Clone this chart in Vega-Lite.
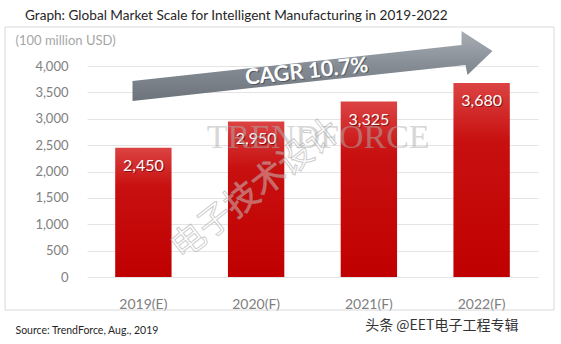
{
  "$schema": "https://vega.github.io/schema/vega-lite/v6.json",
  "width": 451,
  "height": 211,
  "autosize": {"type": "none"},
  "padding": {"left": 87, "top": 66, "right": 23, "bottom": 67},
  "background": "white",
  "config": {"view": {"stroke": null}, "font": "Lato"},
  "title": {
    "text": "Graph: Global Market Scale for Intelligent Manufacturing in 2019-2022",
    "anchor": "start",
    "frame": "group",
    "dx": -62,
    "offset": 4,
    "fontSize": 13.6,
    "fontWeight": "normal",
    "color": "#262626",
    "font": "Lato"
  },
  "datasets": {
    "bars": [
      {"year": "2019(E)", "value": 2450, "label": "2,450"},
      {"year": "2020(F)", "value": 2950, "label": "2,950"},
      {"year": "2021(F)", "value": 3325, "label": "3,325"},
      {"year": "2022(F)", "value": 3680, "label": "3,680"}
    ],
    "deco": [
      {"ax": 2.0, "ay": 4000, "tx": 1.95, "ty": 3880, "cagr": "CAGR 10.7%", "fx": -0.727, "fx2": 4.142, "fy": 4739, "fy2": -626, "wm": "TRENDFORCE", "wx": 2.05, "wy": 2630, "cn": "电子技术设计", "cx": 1.5, "cy": 1650}
    ]
  },
  "resolve": {"scale": {"x": "independent"}, "axis": {"x": "independent"}},
  "layer": [
    {
      "data": {"name": "bars"},
      "encoding": {
        "x": {
          "field": "year", "type": "nominal", "sort": null,
          "scale": {"paddingInner": 0.5, "paddingOuter": 0.25},
          "axis": {
            "title": "Source: TrendForce, Aug., 2019",
            "titleX": -72, "titleY": 53, "titleAlign": "left", "titleAnchor": "start", "titleBaseline": "middle",
            "titleFontSize": 10.5, "titleFontWeight": "normal", "titleColor": "#262626",
            "labelAngle": 0, "labelFontSize": 14, "labelColor": "#808080", "labelPadding": 20,
            "domain": false, "ticks": false
          }
        },
        "y": {
          "field": "value", "type": "quantitative",
          "scale": {"domain": [0, 4000], "nice": false},
          "axis": {
            "values": [0, 500, 1000, 1500, 2000, 2500, 3000, 3500, 4000],
            "tickCount": 10,
            "format": ",d",
            "title": "(100 million USD)",
            "titleAngle": 0, "titleX": -72, "titleY": -26, "titleAlign": "left", "titleBaseline": "middle",
            "titleFontSize": 13, "titleFontWeight": "normal", "titleColor": "#a6a6a6",
            "labelFontSize": 13, "labelColor": "#808080", "labelPadding": 19,
            "domain": false, "ticks": false, "gridColor": "#e4e4e4"
          }
        }
      },
      "layer": [
        {
          "mark": {
            "type": "bar",
            "fill": {
              "gradient": "linear", "x1": 0, "y1": 0, "x2": 0, "y2": 1,
              "stops": [
                {"offset": 0, "color": "#dc4343"},
                {"offset": 0.3, "color": "#c81010"},
                {"offset": 1, "color": "#c00000"}
              ]
            }
          }
        },
        {
          "mark": {"type": "text", "baseline": "middle", "dy": 19, "dx": 1, "fontSize": 16, "color": "#5a0000", "opacity": 0.6},
          "encoding": {"text": {"field": "label"}}
        },
        {
          "mark": {"type": "text", "baseline": "middle", "dy": 18, "fontSize": 16, "color": "white"},
          "encoding": {"text": {"field": "label"}}
        }
      ]
    },
    {
      "data": {"name": "deco"},
      "layer": [
        {
          "mark": {"type": "rect", "fill": null, "stroke": "#d9d9d9", "strokeWidth": 1},
          "encoding": {
            "x": {"field": "fx", "type": "quantitative", "scale": {"domain": [0, 4], "nice": false, "zero": false},
              "axis": {"orient": "top", "labels": false, "ticks": false, "domain": false, "grid": false,
                "title": "头条 @EET电子工程专辑", "titleX": 431, "titleY": 259, "titleAlign": "right", "titleAnchor": "end",
                "titleBaseline": "middle", "titleFont": "Noto Sans CJK SC", "titleFontSize": 14, "titleFontWeight": "normal", "titleColor": "#333333"}},
            "x2": {"field": "fx2"},
            "y": {"field": "fy", "type": "quantitative",
              "axis": {
                "values": [0, 500, 1000, 1500, 2000, 2500, 3000, 3500, 4000],
                "tickCount": 10,
                "format": ",d",
                "title": "(100 million USD)",
                "titleAngle": 0, "titleX": -72, "titleY": -26, "titleAlign": "left", "titleBaseline": "middle",
                "titleFontSize": 13, "titleFontWeight": "normal", "titleColor": "#a6a6a6",
                "labelFontSize": 13, "labelColor": "#808080", "labelPadding": 19,
                "domain": false, "ticks": false, "gridColor": "#e4e4e4"
              }},
            "y2": {"field": "fy2"}
          }
        },
        {
          "mark": {"type": "text", "font": "Liberation Serif", "fontSize": 34, "color": "#b0b0b0", "opacity": 0.5, "baseline": "middle"},
          "encoding": {
            "x": {"field": "wx", "type": "quantitative"},
            "y": {"field": "wy", "type": "quantitative"},
            "text": {"field": "wm"}
          }
        },
        {
          "mark": {"type": "text", "font": "Noto Sans CJK SC", "fontSize": 34, "fill": "white", "fillOpacity": 0.35, "stroke": "#9a9a9a", "strokeWidth": 1, "strokeOpacity": 0.5, "angle": -38, "baseline": "middle"},
          "encoding": {
            "x": {"field": "cx", "type": "quantitative"},
            "y": {"field": "cy", "type": "quantitative"},
            "text": {"field": "cn"}
          }
        },
        {
          "mark": {
            "type": "point", "filled": true, "size": 129600, "opacity": 1,
            "shape": "M-1,0.083 L0.828,-0.117 L0.828,-0.194 L1,-0.083 L0.861,0.05 L0.85,-0.006 L-1,0.194 Z",
            "fill": {
              "gradient": "linear", "x1": 0, "y1": 0, "x2": 0, "y2": 1,
              "stops": [
                {"offset": 0, "color": "#a9aeb4"},
                {"offset": 0.5, "color": "#858c94"},
                {"offset": 1, "color": "#6c737b"}
              ]
            },
            "stroke": null
          },
          "encoding": {
            "x": {"field": "ax", "type": "quantitative"},
            "y": {"field": "ay", "type": "quantitative"}
          }
        },
        {
          "mark": {"type": "text", "fontSize": 21.5, "fontWeight": "bold", "color": "#3a3f45", "opacity": 0.6, "angle": -6, "baseline": "middle", "dx": 1, "dy": 1},
          "encoding": {
            "x": {"field": "tx", "type": "quantitative"},
            "y": {"field": "ty", "type": "quantitative"},
            "text": {"field": "cagr"}
          }
        },
        {
          "mark": {"type": "text", "fontSize": 21.5, "fontWeight": "bold", "color": "white", "angle": -6, "baseline": "middle"},
          "encoding": {
            "x": {"field": "tx", "type": "quantitative"},
            "y": {"field": "ty", "type": "quantitative"},
            "text": {"field": "cagr"}
          }
        }
      ]
    }
  ]
}
